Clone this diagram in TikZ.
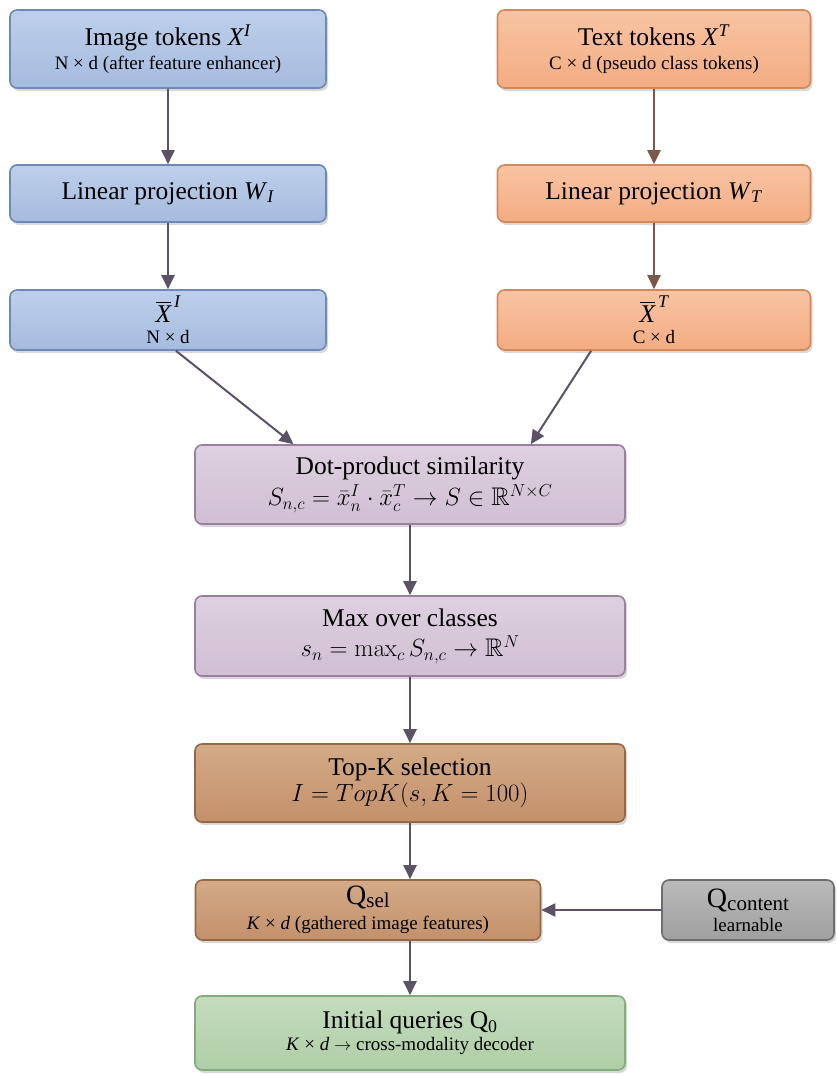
\documentclass[tikz,border=0pt]{standalone}
\usepackage[no-math]{fontspec}
\setmainfont{Liberation Serif}
\usepackage{amsmath,amssymb}
\usetikzlibrary{arrows.meta,shadows,calc}
\definecolor{blueF}{HTML}{A5BBDF}\definecolor{blueL}{HTML}{BDCFEA}\definecolor{blueD}{HTML}{6F89B5}
\definecolor{orangeF}{HTML}{F3AC82}\definecolor{orangeL}{HTML}{F8C4A3}\definecolor{orangeD}{HTML}{D2895B}
\definecolor{purpleF}{HTML}{D0BFD3}\definecolor{purpleL}{HTML}{DDD0DF}\definecolor{purpleD}{HTML}{9B7EA0}
\definecolor{brownF}{HTML}{C3916A}\definecolor{brownL}{HTML}{D3AA88}\definecolor{brownD}{HTML}{956744}
\definecolor{grayF}{HTML}{A0A0A0}\definecolor{grayL}{HTML}{BABABA}\definecolor{grayD}{HTML}{6E6E6E}
\definecolor{greenF}{HTML}{AFCEA6}\definecolor{greenL}{HTML}{C4DCBD}\definecolor{greenD}{HTML}{80AD7A}
\definecolor{arrC}{HTML}{5B5266}\definecolor{arrB}{HTML}{7D5747}
\newcommand{\sbt}{\fontsize{19}{21}\selectfont}
\begin{document}
\begin{tikzpicture}[x=1pt,y=-1pt,
 box/.style={rounded corners=7pt, line width=1.6pt, align=center, inner sep=2pt,
   font=\fontsize{25.5}{28}\selectfont,
   drop shadow={opacity=0.3, shadow xshift=2pt, shadow yshift=-3pt}},
 bluebox/.style={box, draw=blueD, top color=blueL, bottom color=blueF},
 orangebox/.style={box, draw=orangeD, top color=orangeL, bottom color=orangeF},
 purplebox/.style={box, draw=purpleD, top color=purpleL, bottom color=purpleF},
 brownbox/.style={box, draw=brownD, top color=brownL, bottom color=brownF},
 graybox/.style={box, draw=grayD, top color=grayL, bottom color=grayF},
 greenbox/.style={box, draw=greenD, top color=greenL, bottom color=greenF},
 arr/.style={line width=2pt, draw=arrC, -{Triangle[width=13pt,length=14pt,fill=arrC]}},
 arrb/.style={line width=2pt, draw=arrB, -{Triangle[width=13pt,length=14pt,fill=arrB]}},
]
\useasboundingbox[fill=white] (0,0) rectangle (836,1076);

\node[bluebox, minimum width=316pt, minimum height=78pt] (img) at (168,49)
 {Image tokens \textit{X}\textsuperscript{\textit{I}}\\[-4pt] \sbt N × d (after feature enhancer)};
\node[orangebox, minimum width=313pt, minimum height=78pt] (txt) at (654,49)
 {Text tokens \textit{X}\textsuperscript{\textit{T}}\\[-4pt] \sbt C × d (pseudo class tokens)};

\node[bluebox, minimum width=316pt, minimum height=57pt] (linI) at (168,193.5)
 {Linear projection \textit{W}\textsubscript{\textit{I}}};
\node[orangebox, minimum width=313pt, minimum height=57pt] (linT) at (654,193.5)
 {Linear projection \textit{W}\textsubscript{\textit{T}}};

\node[bluebox, minimum width=316pt, minimum height=60pt] (barI) at (168,320)
 {$\overline{\textit{X}}^{\,\textit{I}}$\\[-7pt] \sbt N × d};
\node[orangebox, minimum width=313pt, minimum height=60pt] (barT) at (654,320)
 {$\overline{\textit{X}}^{\,\textit{T}}$\\[-7pt] \sbt C × d};

\node[purplebox, minimum width=430pt, minimum height=79pt] (dot) at (410,484.5)
 {Dot-product similarity\\[3pt] $S_{n,c} = \bar{x}^I_n \cdot \bar{x}^T_c \to S \in \mathbb{R}^{N\times C}$};
\node[purplebox, minimum width=430pt, minimum height=80pt] (max) at (410,636)
 {Max over classes\\[2pt] $s_n = \max_c S_{n,c} \to \mathbb{R}^N$};
\node[brownbox, minimum width=430pt, minimum height=78pt] (topk) at (410,783)
 {Top-K selection\\[-2pt] $I = TopK(s, K = 100)$};

\node[brownbox, minimum width=345pt, minimum height=60pt] (qsel) at (368,910)
 {{\fontsize{28}{28}\selectfont Q\raisebox{-3pt}{\fontsize{21}{21}\selectfont sel}}\\[-3pt] \sbt \textit{K} × \textit{d} (gathered image features)};
\node[graybox, minimum width=172pt, minimum height=60pt] (qcont) at (748,910)
 {{\fontsize{28}{28}\selectfont Q\raisebox{-3pt}{\fontsize{21}{21}\selectfont content}}\\[-4pt] \sbt learnable};

\node[greenbox, minimum width=430pt, minimum height=74pt] (init) at (410,1033)
 {Initial queries Q\textsubscript{0}\\[-6pt] \sbt \textit{K} × \textit{d} $\to$ cross-modality decoder};

\draw[arr] (img) -- (linI);
\draw[arr] (linI) -- (barI);
\draw[arrb] (txt) -- (linT);
\draw[arrb] (linT) -- (barT);
\draw[arr] ($(barI.south)!0.05!(barI.south east)$) -- ($(dot.north)!0.54!(dot.north west)$);
\draw[arr] ($(barT.south)!0.4!(barT.south west)$) -- ($(dot.north)!0.56!(dot.north east)$);
\draw[arr] (dot) -- (max);
\draw[arr] (max) -- (topk);
\draw[arr] (topk.south) -- (topk.south |- qsel.north);
\draw[arr] (init.north |- qsel.south) -- (init.north);
\draw[arr] (qcont) -- (qsel);
\end{tikzpicture}
\end{document}
